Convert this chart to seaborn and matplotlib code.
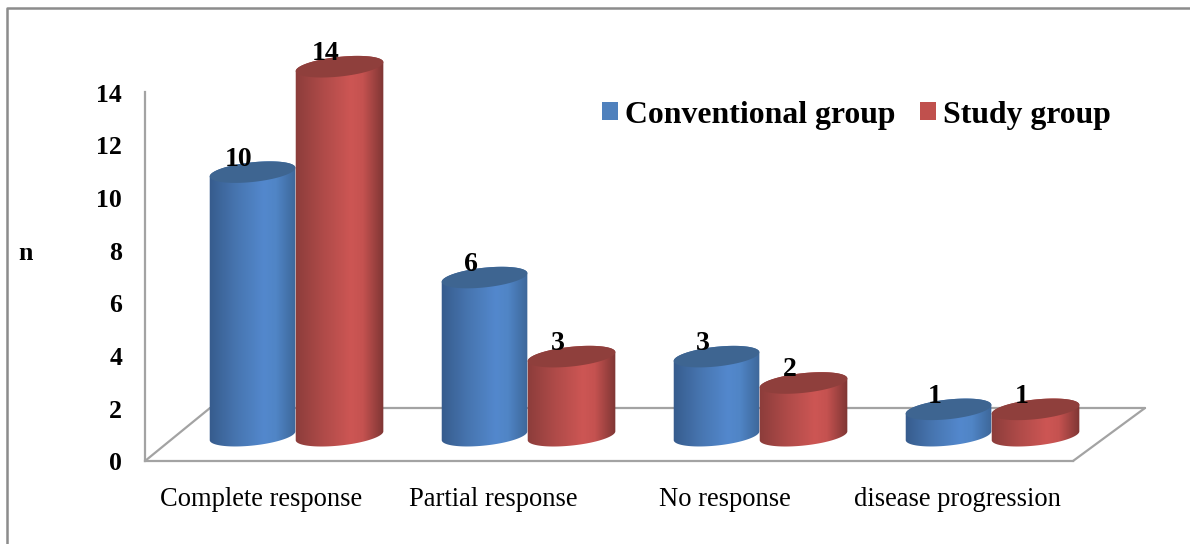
import numpy as np
import pandas as pd
import matplotlib
matplotlib.use("Agg")
import matplotlib.pyplot as plt
import seaborn as sns
from matplotlib.colors import LinearSegmentedColormap
from matplotlib.lines import Line2D
from matplotlib.patches import Patch, Polygon
from matplotlib.transforms import Affine2D

categories = ["Complete response", "Partial response", "No response", "disease progression"]
conventional = [10, 6, 3, 1]
study = [14, 3, 2, 1]
groups = ["Conventional group", "Study group"]
yticks = [0, 2, 4, 6, 8, 10, 12, 14]

W, H = 1190, 544
GREY = "#a3a3a3"
SERIF = "Liberation Serif"
BAR_COL = {"Conventional group": "#4f81bd", "Study group": "#c0504d"}
TOP_COL = {"Conventional group": "#3e6591", "Study group": "#8f3f3c"}
GRAD = {
    "Conventional group": ["#35598a", "#4674ae", "#5388cd", "#5085c6", "#3a6292"],
    "Study group": ["#8a3c3a", "#ad4a48", "#cd5654", "#c55250", "#773331"],
}

sns.set_theme(style="white")
plt.rcParams["font.family"] = [SERIF, "DejaVu Serif"]

df = pd.DataFrame({
    "category": categories * 2,
    "group": [groups[0]] * 4 + [groups[1]] * 4,
    "value": conventional + study,
})

fig = plt.figure(figsize=(W / 100, H / 100), dpi=100, facecolor="white")
ax = fig.add_axes([145 / W, 1 - 461 / H, (1073 - 145) / W, (461 - 92) / H])
px = Affine2D().scale(1, -1).translate(0, H)   # top-left pixel coordinates

FLOOR_LIFT = 0.96  # cylinders stand on the raised 3-D floor
sns.barplot(data=df, x="category", y="value", hue="group", hue_order=groups,
            palette=BAR_COL, width=0.75, bottom=FLOOR_LIFT, legend=False,
            saturation=1, ax=ax, zorder=3)

ax.set_xlim(-0.651, 3.349)
ax.set_ylim(0, 14)
ax.set_xlabel("")
ax.set_ylabel("")
ax.patch.set_alpha(0)

for s in ("top", "right"):
    ax.spines[s].set_visible(False)
for s in ("left", "bottom"):
    ax.spines[s].set_color(GREY)
    ax.spines[s].set_linewidth(1.6)

ax.set_yticks(yticks)
ax.set_yticklabels([str(v) for v in yticks], fontsize=18.5, fontweight="bold",
                   family=SERIF, color="black")
ax.set_xticks(np.arange(4) - 0.15)
ax.set_xticklabels(categories, fontsize=19.1, family=SERIF, color="black")
ax.tick_params(axis="y", length=0, pad=16.5)
ax.tick_params(axis="x", length=0, pad=19)
for lab in ax.get_yticklabels():
    lab.set_transform(lab.get_transform() + Affine2D().translate(0, -0.5))

# 3-D floor outline
for xs, ys in [((145, 210), (461, 408)), ((210, 1145), (408, 408)), ((1145, 1073), (408, 461))]:
    ax.add_line(Line2D(xs, ys, transform=px, color=GREY, lw=1.6, clip_on=False, zorder=1))

# Outer frame
fig.add_artist(Line2D([7, 7, W], [H, 8, 8], transform=px, color="#8c8c8c", lw=1.8))

# Cylinders built on the seaborn bars
sx = 232.0
sy = 369.0 / 14
TILT = np.deg2rad(5.5)
B = 10.0
t = np.linspace(0, 2 * np.pi, 181)


def ellipse(cx, cy, a, tt):
    """Tilted ellipse, with pixel radii, returned in data units."""
    ex = a * np.cos(tt) * np.cos(TILT) + B * np.sin(tt) * np.sin(TILT)
    ey = a * np.cos(tt) * np.sin(TILT) + B * np.sin(tt) * np.cos(TILT)
    return cx + ex / sx, cy + ey / sy


order = [(i, g) for i in range(4) for g in range(2)]
values = [conventional, study]
bars = list(ax.patches)
z = 3.0
for i, g in order:
    bar = bars[g * 4 + i]
    name = groups[g]
    x0, w = bar.get_x(), bar.get_width()
    cx = x0 + w / 2
    base, top = bar.get_y(), bar.get_y() + bar.get_height()
    a = w * sx / 2 + (0.5 if g else -0.5)
    bar.set_facecolor("none")
    bar.set_edgecolor("none")

    # outline: lower half of base + upper half of top
    tb = np.linspace(np.pi, 2 * np.pi, 91)
    tu = np.linspace(0, np.pi, 91)
    xb, yb = ellipse(cx, base, a, tb)
    xu, yu = ellipse(cx, top, a, tu)
    poly = np.column_stack([np.r_[xb, xu], np.r_[yb, yu]])
    body = Polygon(poly, closed=True, transform=ax.transData, facecolor="none", edgecolor="none")
    ax.add_patch(body)
    body.set_zorder(z)

    cmap = LinearSegmentedColormap.from_list(name, list(zip([0, .3, .62, .75, 1], GRAD[name])))
    im = ax.imshow(np.linspace(0, 1, 256)[None, :], cmap=cmap, aspect="auto",
                   extent=(cx - w / 2 - 0.01, cx + w / 2 + 0.01, base - 1, top + 1),
                   interpolation="bilinear", zorder=z + 0.1)
    im.set_clip_box(fig.bbox)
    im.set_clip_path(body)

    xe, ye = ellipse(cx, top, a, t)
    ax.add_patch(Polygon(np.column_stack([xe, ye]), closed=True, facecolor=TOP_COL[name],
                         edgecolor="none", zorder=z + 0.2, clip_on=False))

    ax.annotate(str(values[g][i]), (cx, top), xytext=(-14, 13), textcoords="offset pixels",
                ha="center", va="center", fontsize=20, fontweight="bold", family=SERIF,
                color="black", zorder=50, annotation_clip=False)
    z += 1

ax.set_xlim(-0.651, 3.349)
ax.set_ylim(0, 14)

fig.text(25 / W, 1 - 253.5 / H, "n", ha="center", va="center", fontsize=18.5,
         fontweight="bold", family=SERIF, color="black")

handles = [Patch(facecolor=BAR_COL[g], edgecolor="none", label=g) for g in groups]
ax.legend(handles=handles, ncols=2, frameon=False, loc="center left",
          bbox_to_anchor=(576.5 / W, 1 - 115 / H), bbox_transform=fig.transFigure,
          prop={"family": SERIF, "weight": "bold", "size": 22.9},
          handlelength=0.5, handleheight=0.5, handletextpad=0.22, columnspacing=0.79,
          borderpad=0.3, labelcolor="black")

fig.savefig("out.png", dpi=100)
